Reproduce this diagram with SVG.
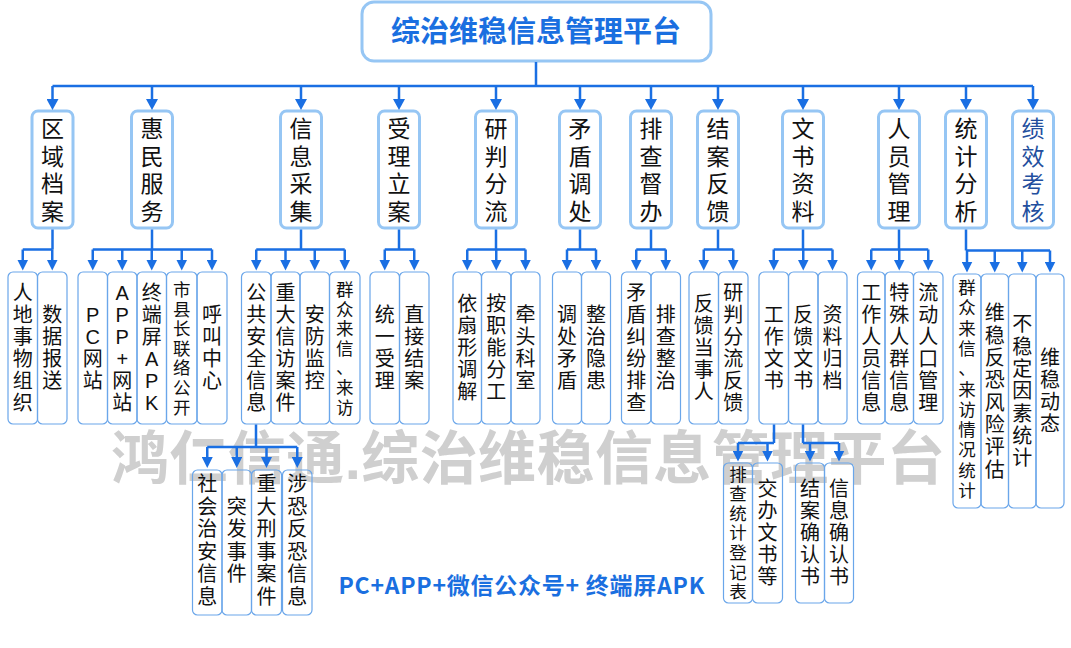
<svg xmlns="http://www.w3.org/2000/svg" width="1071" height="648" viewBox="0 0 1071 648">
<style>
.b1{fill:none;stroke:#96c6f4;stroke-width:3}
.b2{fill:none;stroke:#6aa6ea;stroke-width:1.2}
text{font-family:"Liberation Sans","Noto Sans CJK SC",sans-serif;text-anchor:middle;fill:#111}
.t1{font-size:23px}
.t2{font-size:20px}
.t3{font-size:17.5px}
.t4{font-size:17.5px}
.title{font-size:29px;font-weight:bold;fill:#1a6fe0;font-family:"Noto Sans CJK SC",sans-serif}
.slogan{font-size:23px;font-weight:bold;fill:#1a6fe0;font-family:"Noto Sans CJK SC",sans-serif}
.wm{font-size:58px;font-weight:bold;fill:#cfcfcf;text-anchor:start}
.kpi{fill:#234f9e}
.c{fill:none;stroke:#1a6fe3;stroke-width:2.5}
.a1{fill:none;stroke:#1a6fe3;stroke-width:2.5;marker-end:url(#m1)}
.a2{fill:none;stroke:#1a6fe3;stroke-width:2.5;marker-end:url(#m2)}
</style>
<defs>
<marker id="m1" viewBox="0 0 11 12" markerUnits="userSpaceOnUse" markerWidth="11" markerHeight="12" refX="5" refY="6" orient="auto"><path d="M0,0 L11,6 L0,12 z" fill="#1a6fe3"/></marker>
<marker id="m2" viewBox="0 0 11 11" markerUnits="userSpaceOnUse" markerWidth="11" markerHeight="11" refX="5" refY="5.5" orient="auto"><path d="M0,0 L11,5.5 L0,11 z" fill="#1a6fe3"/></marker>
</defs>
<rect x="0" y="0" width="1071" height="648" fill="#ffffff"/>
<text class="wm" x="111" y="479" textLength="834">鸿仁信通.综治维稳信息管理平台</text>

<g id="root">
<rect class="b1" x="362" y="2" width="349" height="59" rx="12"/>
<text class="title" x="536" y="42">综治维稳信息管理平台</text>
</g>

<!-- level 1 -->
<g id="n-qyda"><rect class="b1" x="32" y="111" width="41" height="117" rx="6"/><text class="t1"><tspan x="52.5" y="137">区</tspan><tspan x="52.5" y="164.5">域</tspan><tspan x="52.5" y="192">档</tspan><tspan x="52.5" y="219.5">案</tspan></text></g>
<g id="n-hmfw"><rect class="b1" x="131.5" y="111" width="41" height="117" rx="6"/><text class="t1"><tspan x="152" y="137">惠</tspan><tspan x="152" y="164.5">民</tspan><tspan x="152" y="192">服</tspan><tspan x="152" y="219.5">务</tspan></text></g>
<g id="n-xxcj"><rect class="b1" x="280.5" y="111" width="41" height="117" rx="6"/><text class="t1"><tspan x="301" y="137">信</tspan><tspan x="301" y="164.5">息</tspan><tspan x="301" y="192">采</tspan><tspan x="301" y="219.5">集</tspan></text></g>
<g id="n-slla"><rect class="b1" x="378.5" y="111" width="41" height="117" rx="6"/><text class="t1"><tspan x="399" y="137">受</tspan><tspan x="399" y="164.5">理</tspan><tspan x="399" y="192">立</tspan><tspan x="399" y="219.5">案</tspan></text></g>
<g id="n-ypfl"><rect class="b1" x="475.5" y="111" width="41" height="117" rx="6"/><text class="t1"><tspan x="496" y="137">研</tspan><tspan x="496" y="164.5">判</tspan><tspan x="496" y="192">分</tspan><tspan x="496" y="219.5">流</tspan></text></g>
<g id="n-mdtc"><rect class="b1" x="559.5" y="111" width="41" height="117" rx="6"/><text class="t1"><tspan x="580" y="137">矛</tspan><tspan x="580" y="164.5">盾</tspan><tspan x="580" y="192">调</tspan><tspan x="580" y="219.5">处</tspan></text></g>
<g id="n-pcdb"><rect class="b1" x="630.5" y="111" width="41" height="117" rx="6"/><text class="t1"><tspan x="651" y="137">排</tspan><tspan x="651" y="164.5">查</tspan><tspan x="651" y="192">督</tspan><tspan x="651" y="219.5">办</tspan></text></g>
<g id="n-jafk"><rect class="b1" x="697.5" y="111" width="41" height="117" rx="6"/><text class="t1"><tspan x="718" y="137">结</tspan><tspan x="718" y="164.5">案</tspan><tspan x="718" y="192">反</tspan><tspan x="718" y="219.5">馈</tspan></text></g>
<g id="n-wszl"><rect class="b1" x="782.5" y="111" width="41" height="117" rx="6"/><text class="t1"><tspan x="803" y="137">文</tspan><tspan x="803" y="164.5">书</tspan><tspan x="803" y="192">资</tspan><tspan x="803" y="219.5">料</tspan></text></g>
<g id="n-rygl"><rect class="b1" x="878.5" y="111" width="41" height="117" rx="6"/><text class="t1"><tspan x="899" y="137">人</tspan><tspan x="899" y="164.5">员</tspan><tspan x="899" y="192">管</tspan><tspan x="899" y="219.5">理</tspan></text></g>
<g id="n-tjfx"><rect class="b1" x="945.5" y="111" width="41" height="117" rx="6"/><text class="t1"><tspan x="966" y="137">统</tspan><tspan x="966" y="164.5">计</tspan><tspan x="966" y="192">分</tspan><tspan x="966" y="219.5">析</tspan></text></g>
<g id="n-jxkh"><rect class="b1" x="1012.5" y="111" width="41" height="117" rx="6"/><text class="t1 kpi"><tspan x="1033" y="137">绩</tspan><tspan x="1033" y="164.5">效</tspan><tspan x="1033" y="192">考</tspan><tspan x="1033" y="219.5">核</tspan></text></g>

<!-- level 2 -->
<g id="n-rdswzz"><rect class="b2" x="8" y="272" width="29.5" height="152" rx="5"/><text class="t2"><tspan x="22.75" y="300.4">人</tspan><tspan x="22.75" y="322.4">地</tspan><tspan x="22.75" y="344.4">事</tspan><tspan x="22.75" y="366.4">物</tspan><tspan x="22.75" y="388.4">组</tspan><tspan x="22.75" y="410.4">织</tspan></text></g>
<g id="n-sjbs"><rect class="b2" x="37.5" y="272" width="29.5" height="152" rx="5"/><text class="t2"><tspan x="52.25" y="322.4">数</tspan><tspan x="52.25" y="344.4">据</tspan><tspan x="52.25" y="366.4">报</tspan><tspan x="52.25" y="388.4">送</tspan></text></g>

<g id="n-pcwz"><rect class="b2" x="78" y="272" width="29.5" height="152" rx="5"/><text class="t2"><tspan x="92.75" y="322.4">P</tspan><tspan x="92.75" y="344.4">C</tspan><tspan x="92.75" y="366.4">网</tspan><tspan x="92.75" y="388.4">站</tspan></text></g>
<g id="n-appwz"><rect class="b2" x="107.5" y="272" width="29.5" height="152" rx="5"/><text class="t2"><tspan x="122.25" y="300.4">A</tspan><tspan x="122.25" y="322.4">P</tspan><tspan x="122.25" y="344.4">P</tspan><tspan x="122.25" y="366.4">+</tspan><tspan x="122.25" y="388.4">网</tspan><tspan x="122.25" y="410.4">站</tspan></text></g>
<g id="n-zdp"><rect class="b2" x="137" y="272" width="29.5" height="152" rx="5"/><text class="t2"><tspan x="151.75" y="300.4">终</tspan><tspan x="151.75" y="322.4">端</tspan><tspan x="151.75" y="344.4">屏</tspan><tspan x="151.75" y="366.4">A</tspan><tspan x="151.75" y="388.4">P</tspan><tspan x="151.75" y="410.4">K</tspan></text></g>
<g id="n-sxz"><rect class="b2" x="166.5" y="272" width="30.5" height="152" rx="5"/><text class="t3"><tspan x="181.75" y="296">市</tspan><tspan x="181.75" y="315.6">县</tspan><tspan x="181.75" y="335.2">长</tspan><tspan x="181.75" y="354.8">联</tspan><tspan x="181.75" y="374.4">络</tspan><tspan x="181.75" y="394">公</tspan><tspan x="181.75" y="413.6">开</tspan></text></g>
<g id="n-hjzx"><rect class="b2" x="197" y="272" width="30" height="152" rx="5"/><text class="t2"><tspan x="212" y="322.4">呼</tspan><tspan x="212" y="344.4">叫</tspan><tspan x="212" y="366.4">中</tspan><tspan x="212" y="388.4">心</tspan></text></g>

<g id="n-ggaq"><rect class="b2" x="241.5" y="272" width="29.5" height="152" rx="5"/><text class="t2"><tspan x="256.25" y="300.4">公</tspan><tspan x="256.25" y="322.4">共</tspan><tspan x="256.25" y="344.4">安</tspan><tspan x="256.25" y="366.4">全</tspan><tspan x="256.25" y="388.4">信</tspan><tspan x="256.25" y="410.4">息</tspan></text></g>
<g id="n-zdxf"><rect class="b2" x="271" y="272" width="29" height="152" rx="5"/><text class="t2"><tspan x="285.5" y="300.4">重</tspan><tspan x="285.5" y="322.4">大</tspan><tspan x="285.5" y="344.4">信</tspan><tspan x="285.5" y="366.4">访</tspan><tspan x="285.5" y="388.4">案</tspan><tspan x="285.5" y="410.4">件</tspan></text></g>
<g id="n-afjk"><rect class="b2" x="300" y="272" width="29.5" height="152" rx="5"/><text class="t2"><tspan x="314.75" y="322.4">安</tspan><tspan x="314.75" y="344.4">防</tspan><tspan x="314.75" y="366.4">监</tspan><tspan x="314.75" y="388.4">控</tspan></text></g>
<g id="n-qzlx"><rect class="b2" x="329.5" y="272" width="30.5" height="152" rx="5"/><text class="t3"><tspan x="344.75" y="296">群</tspan><tspan x="344.75" y="315.6">众</tspan><tspan x="344.75" y="335.2">来</tspan><tspan x="344.75" y="354.8">信</tspan><tspan x="344.75" y="374.4">、</tspan><tspan x="344.75" y="394">来</tspan><tspan x="344.75" y="413.6">访</tspan></text></g>

<g id="n-tysl"><rect class="b2" x="370" y="272" width="29.5" height="152" rx="5"/><text class="t2"><tspan x="384.75" y="322.4">统</tspan><tspan x="384.75" y="344.4">一</tspan><tspan x="384.75" y="366.4">受</tspan><tspan x="384.75" y="388.4">理</tspan></text></g>
<g id="n-zjja"><rect class="b2" x="399.5" y="272" width="29.5" height="152" rx="5"/><text class="t2"><tspan x="414.25" y="322.4">直</tspan><tspan x="414.25" y="344.4">接</tspan><tspan x="414.25" y="366.4">结</tspan><tspan x="414.25" y="388.4">案</tspan></text></g>

<g id="n-ysxtj"><rect class="b2" x="453" y="272" width="28.5" height="152" rx="5"/><text class="t2"><tspan x="467.25" y="311.4">依</tspan><tspan x="467.25" y="333.4">扇</tspan><tspan x="467.25" y="355.4">形</tspan><tspan x="467.25" y="377.4">调</tspan><tspan x="467.25" y="399.4">解</tspan></text></g>
<g id="n-azn"><rect class="b2" x="481.5" y="272" width="29.5" height="152" rx="5"/><text class="t2"><tspan x="496.25" y="311.4">按</tspan><tspan x="496.25" y="333.4">职</tspan><tspan x="496.25" y="355.4">能</tspan><tspan x="496.25" y="377.4">分</tspan><tspan x="496.25" y="399.4">工</tspan></text></g>
<g id="n-qtks"><rect class="b2" x="511" y="272" width="29" height="152" rx="5"/><text class="t2"><tspan x="525.5" y="322.4">牵</tspan><tspan x="525.5" y="344.4">头</tspan><tspan x="525.5" y="366.4">科</tspan><tspan x="525.5" y="388.4">室</tspan></text></g>

<g id="n-tcmd"><rect class="b2" x="552.5" y="272" width="29" height="152" rx="5"/><text class="t2"><tspan x="567" y="322.4">调</tspan><tspan x="567" y="344.4">处</tspan><tspan x="567" y="366.4">矛</tspan><tspan x="567" y="388.4">盾</tspan></text></g>
<g id="n-zzyh"><rect class="b2" x="581.5" y="272" width="29" height="152" rx="5"/><text class="t2"><tspan x="596" y="322.4">整</tspan><tspan x="596" y="344.4">治</tspan><tspan x="596" y="366.4">隐</tspan><tspan x="596" y="388.4">患</tspan></text></g>

<g id="n-mdjf"><rect class="b2" x="621.5" y="272" width="29.5" height="152" rx="5"/><text class="t2"><tspan x="636.25" y="300.4">矛</tspan><tspan x="636.25" y="322.4">盾</tspan><tspan x="636.25" y="344.4">纠</tspan><tspan x="636.25" y="366.4">纷</tspan><tspan x="636.25" y="388.4">排</tspan><tspan x="636.25" y="410.4">查</tspan></text></g>
<g id="n-pczz"><rect class="b2" x="651" y="272" width="29.5" height="152" rx="5"/><text class="t2"><tspan x="665.75" y="322.4">排</tspan><tspan x="665.75" y="344.4">查</tspan><tspan x="665.75" y="366.4">整</tspan><tspan x="665.75" y="388.4">治</tspan></text></g>

<g id="n-fkdsr"><rect class="b2" x="689" y="272" width="29.5" height="152" rx="5"/><text class="t2"><tspan x="703.75" y="311.4">反</tspan><tspan x="703.75" y="333.4">馈</tspan><tspan x="703.75" y="355.4">当</tspan><tspan x="703.75" y="377.4">事</tspan><tspan x="703.75" y="399.4">人</tspan></text></g>
<g id="n-ypflfk"><rect class="b2" x="718.5" y="272" width="29.5" height="152" rx="5"/><text class="t2"><tspan x="733.25" y="300.4">研</tspan><tspan x="733.25" y="322.4">判</tspan><tspan x="733.25" y="344.4">分</tspan><tspan x="733.25" y="366.4">流</tspan><tspan x="733.25" y="388.4">反</tspan><tspan x="733.25" y="410.4">馈</tspan></text></g>

<g id="n-gzws"><rect class="b2" x="759" y="272" width="29.5" height="152" rx="5"/><text class="t2"><tspan x="773.75" y="322.4">工</tspan><tspan x="773.75" y="344.4">作</tspan><tspan x="773.75" y="366.4">文</tspan><tspan x="773.75" y="388.4">书</tspan></text></g>
<g id="n-fkws"><rect class="b2" x="788.5" y="272" width="29.5" height="152" rx="5"/><text class="t2"><tspan x="803.25" y="322.4">反</tspan><tspan x="803.25" y="344.4">馈</tspan><tspan x="803.25" y="366.4">文</tspan><tspan x="803.25" y="388.4">书</tspan></text></g>
<g id="n-zlgd"><rect class="b2" x="818" y="272" width="29" height="152" rx="5"/><text class="t2"><tspan x="832.5" y="322.4">资</tspan><tspan x="832.5" y="344.4">料</tspan><tspan x="832.5" y="366.4">归</tspan><tspan x="832.5" y="388.4">档</tspan></text></g>

<g id="n-gzry"><rect class="b2" x="857.5" y="272" width="27.5" height="152" rx="5"/><text class="t2"><tspan x="871.25" y="300.4">工</tspan><tspan x="871.25" y="322.4">作</tspan><tspan x="871.25" y="344.4">人</tspan><tspan x="871.25" y="366.4">员</tspan><tspan x="871.25" y="388.4">信</tspan><tspan x="871.25" y="410.4">息</tspan></text></g>
<g id="n-tsrq"><rect class="b2" x="885" y="272" width="28.5" height="152" rx="5"/><text class="t2"><tspan x="899.25" y="300.4">特</tspan><tspan x="899.25" y="322.4">殊</tspan><tspan x="899.25" y="344.4">人</tspan><tspan x="899.25" y="366.4">群</tspan><tspan x="899.25" y="388.4">信</tspan><tspan x="899.25" y="410.4">息</tspan></text></g>
<g id="n-ldrk"><rect class="b2" x="913.5" y="272" width="29.5" height="152" rx="5"/><text class="t2"><tspan x="928.25" y="300.4">流</tspan><tspan x="928.25" y="322.4">动</tspan><tspan x="928.25" y="344.4">人</tspan><tspan x="928.25" y="366.4">口</tspan><tspan x="928.25" y="388.4">管</tspan><tspan x="928.25" y="410.4">理</tspan></text></g>

<g id="n-qzlxtj"><rect class="b2" x="953" y="274" width="28" height="234" rx="5"/><text class="t4"><tspan x="967" y="294">群</tspan><tspan x="967" y="314.3">众</tspan><tspan x="967" y="334.6">来</tspan><tspan x="967" y="354.9">信</tspan><tspan x="967" y="375.2">、</tspan><tspan x="967" y="395.5">来</tspan><tspan x="967" y="415.8">访</tspan><tspan x="967" y="436.1">情</tspan><tspan x="967" y="456.4">况</tspan><tspan x="967" y="476.7">统</tspan><tspan x="967" y="497">计</tspan></text></g>
<g id="n-wwfk"><rect class="b2" x="981" y="274" width="27.5" height="234" rx="5"/><text class="t2"><tspan x="994.75" y="320.4">维</tspan><tspan x="994.75" y="342.7">稳</tspan><tspan x="994.75" y="365">反</tspan><tspan x="994.75" y="387.3">恐</tspan><tspan x="994.75" y="409.6">风</tspan><tspan x="994.75" y="431.9">险</tspan><tspan x="994.75" y="454.2">评</tspan><tspan x="994.75" y="476.5">估</tspan></text></g>
<g id="n-bwd"><rect class="b2" x="1008.5" y="274" width="27.5" height="234" rx="5"/><text class="t2"><tspan x="1022.25" y="331.4">不</tspan><tspan x="1022.25" y="353.7">稳</tspan><tspan x="1022.25" y="376">定</tspan><tspan x="1022.25" y="398.3">因</tspan><tspan x="1022.25" y="420.6">素</tspan><tspan x="1022.25" y="442.9">统</tspan><tspan x="1022.25" y="465.2">计</tspan></text></g>
<g id="n-wwdt"><rect class="b2" x="1036" y="274" width="28" height="234" rx="5"/><text class="t2"><tspan x="1050" y="365.4">维</tspan><tspan x="1050" y="387.4">稳</tspan><tspan x="1050" y="409.4">动</tspan><tspan x="1050" y="431.4">态</tspan></text></g>

<!-- level 3 -->
<g id="n-shza"><rect class="b2" x="192.5" y="470" width="29.5" height="145" rx="5"/><text class="t2"><tspan x="207.25" y="491.2">社</tspan><tspan x="207.25" y="513.7">会</tspan><tspan x="207.25" y="536.2">治</tspan><tspan x="207.25" y="558.7">安</tspan><tspan x="207.25" y="581.2">信</tspan><tspan x="207.25" y="603.7">息</tspan></text></g>
<g id="n-tfsj"><rect class="b2" x="222" y="470" width="29.5" height="145" rx="5"/><text class="t2"><tspan x="236.75" y="513.7">突</tspan><tspan x="236.75" y="536.2">发</tspan><tspan x="236.75" y="558.7">事</tspan><tspan x="236.75" y="581.2">件</tspan></text></g>
<g id="n-zdxs"><rect class="b2" x="251.5" y="470" width="30" height="145" rx="5"/><text class="t2"><tspan x="266.5" y="491.2">重</tspan><tspan x="266.5" y="513.7">大</tspan><tspan x="266.5" y="536.2">刑</tspan><tspan x="266.5" y="558.7">事</tspan><tspan x="266.5" y="581.2">案</tspan><tspan x="266.5" y="603.7">件</tspan></text></g>
<g id="n-skfk"><rect class="b2" x="282.5" y="470" width="29.5" height="145" rx="5"/><text class="t2"><tspan x="297.25" y="491.2">涉</tspan><tspan x="297.25" y="513.7">恐</tspan><tspan x="297.25" y="536.2">反</tspan><tspan x="297.25" y="558.7">恐</tspan><tspan x="297.25" y="581.2">信</tspan><tspan x="297.25" y="603.7">息</tspan></text></g>

<g id="n-pctj"><rect class="b2" x="723.5" y="463" width="29" height="140" rx="5"/><text class="t3"><tspan x="738" y="480.5">排</tspan><tspan x="738" y="500.1">查</tspan><tspan x="738" y="519.7">统</tspan><tspan x="738" y="539.3">计</tspan><tspan x="738" y="558.9">登</tspan><tspan x="738" y="578.5">记</tspan><tspan x="738" y="598.1">表</tspan></text></g>
<g id="n-jbws"><rect class="b2" x="752.5" y="463" width="30" height="140" rx="5"/><text class="t2"><tspan x="767.5" y="496.4">交</tspan><tspan x="767.5" y="518.4">办</tspan><tspan x="767.5" y="540.4">文</tspan><tspan x="767.5" y="562.4">书</tspan><tspan x="767.5" y="584.4">等</tspan></text></g>
<g id="n-jaqr"><rect class="b2" x="795.5" y="463" width="29" height="140" rx="5"/><text class="t2"><tspan x="810" y="496.4">结</tspan><tspan x="810" y="518.4">案</tspan><tspan x="810" y="540.4">确</tspan><tspan x="810" y="562.4">认</tspan><tspan x="810" y="584.4">书</tspan></text></g>
<g id="n-xxqr"><rect class="b2" x="824.5" y="463" width="29" height="140" rx="5"/><text class="t2"><tspan x="839" y="496.4">信</tspan><tspan x="839" y="518.4">息</tspan><tspan x="839" y="540.4">确</tspan><tspan x="839" y="562.4">认</tspan><tspan x="839" y="584.4">书</tspan></text></g>

<text class="slogan" x="521.5" y="594" textLength="366">PC+APP+微信公众号+ 终端屏APK</text>

<g id="connectors">
<path class="c" d="M536,62 V86 M52.5,86 H1033"/>
<path class="a1" d="M52.5,86 V104"/>
<path class="a1" d="M152,86 V104"/>
<path class="a1" d="M301,86 V104"/>
<path class="a1" d="M399,86 V104"/>
<path class="a1" d="M496,86 V104"/>
<path class="a1" d="M580,86 V104"/>
<path class="a1" d="M651,86 V104"/>
<path class="a1" d="M718,86 V104"/>
<path class="a1" d="M803,86 V104"/>
<path class="a1" d="M899,86 V104"/>
<path class="a1" d="M966,86 V104"/>
<path class="a1" d="M1033,86 V104"/>

<path class="c" d="M52.5,229.5 V249.5 M22.75,249.5 H52.5"/>
<path class="a2" d="M22.75,249.5 V264.5"/>
<path class="a2" d="M52.25,249.5 V264.5"/>

<path class="c" d="M152,229.5 V249.5 M92.75,249.5 H212"/>
<path class="a2" d="M92.75,249.5 V264.5"/>
<path class="a2" d="M122.25,249.5 V264.5"/>
<path class="a2" d="M151.75,249.5 V264.5"/>
<path class="a2" d="M181.75,249.5 V264.5"/>
<path class="a2" d="M212,249.5 V264.5"/>

<path class="c" d="M301,229.5 V249.5 M256.25,249.5 H344.75"/>
<path class="a2" d="M256.25,249.5 V264.5"/>
<path class="a2" d="M285.5,249.5 V264.5"/>
<path class="a2" d="M314.75,249.5 V264.5"/>
<path class="a2" d="M344.75,249.5 V264.5"/>

<path class="c" d="M399,229.5 V249.5 M384.75,249.5 H414.25"/>
<path class="a2" d="M384.75,249.5 V264.5"/>
<path class="a2" d="M414.25,249.5 V264.5"/>

<path class="c" d="M496,229.5 V249.5 M467.25,249.5 H525.5"/>
<path class="a2" d="M467.25,249.5 V264.5"/>
<path class="a2" d="M496.25,249.5 V264.5"/>
<path class="a2" d="M525.5,249.5 V264.5"/>

<path class="c" d="M580,229.5 V249.5 M567,249.5 H596"/>
<path class="a2" d="M567,249.5 V264.5"/>
<path class="a2" d="M596,249.5 V264.5"/>

<path class="c" d="M651,229.5 V249.5 M636.25,249.5 H665.75"/>
<path class="a2" d="M636.25,249.5 V264.5"/>
<path class="a2" d="M665.75,249.5 V264.5"/>

<path class="c" d="M718,229.5 V249.5 M703.75,249.5 H733.25"/>
<path class="a2" d="M703.75,249.5 V264.5"/>
<path class="a2" d="M733.25,249.5 V264.5"/>

<path class="c" d="M803,229.5 V249.5 M773.75,249.5 H832.5"/>
<path class="a2" d="M773.75,249.5 V264.5"/>
<path class="a2" d="M803.25,249.5 V264.5"/>
<path class="a2" d="M832.5,249.5 V264.5"/>

<path class="c" d="M899,229.5 V249.5 M871.25,249.5 H928.25"/>
<path class="a2" d="M871.25,249.5 V264.5"/>
<path class="a2" d="M899.25,249.5 V264.5"/>
<path class="a2" d="M928.25,249.5 V264.5"/>

<path class="c" d="M966,229.5 V250.5 M966,250.5 H1050"/>
<path class="a2" d="M967,250.5 V266.5"/>
<path class="a2" d="M994.75,250.5 V266.5"/>
<path class="a2" d="M1022.25,250.5 V266.5"/>
<path class="a2" d="M1050,250.5 V266.5"/>

<path class="c" d="M256,424.5 V447 M207.25,447 H297.25"/>
<path class="a2" d="M207.25,447 V462"/>
<path class="a2" d="M236.75,447 V462"/>
<path class="a2" d="M266.5,447 V462"/>
<path class="a2" d="M297.25,447 V462"/>

<path class="c" d="M774,424.5 V443 M738,443 H774"/>
<path class="a2" d="M738,443 V455.5"/>
<path class="a2" d="M767.5,443 V455.5"/>

<path class="c" d="M803,424.5 V443 M803,443 H839"/>
<path class="a2" d="M810,443 V455.5"/>
<path class="a2" d="M839,443 V455.5"/>
</g>
</svg>
